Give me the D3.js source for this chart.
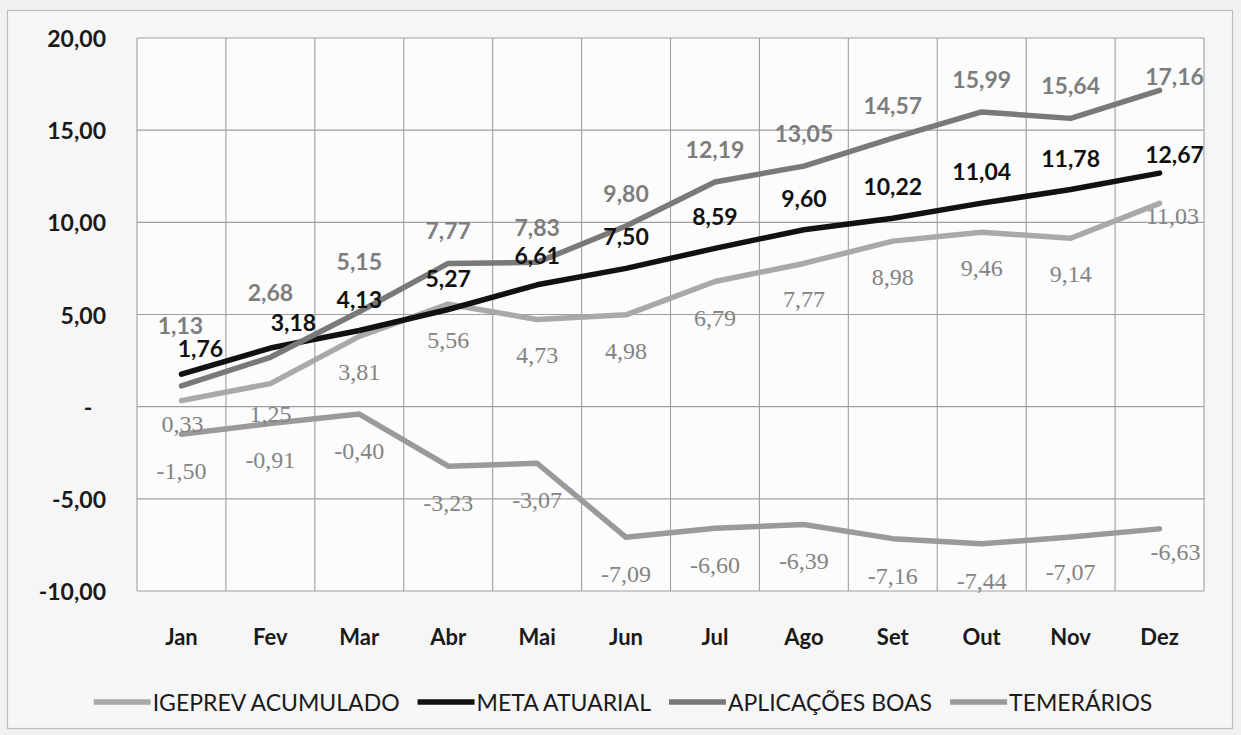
<!DOCTYPE html>
<html><head><meta charset="utf-8">
<script src="https://cdn.jsdelivr.net/npm/d3@7"></script>
<style>html,body{margin:0;padding:0;background:#f1f1f1;} svg{display:block;}</style>
</head><body><svg id="chart" width="1241" height="735"></svg>
<script>
// ---- data ----
const months = ["Jan","Fev","Mar","Abr","Mai","Jun","Jul","Ago","Set","Out","Nov","Dez"];
const igeprev = [0.33,1.25,3.81,5.56,4.73,4.98,6.79,7.77,8.98,9.46,9.14,11.03];
const meta = [1.76,3.18,4.13,5.27,6.61,7.50,8.59,9.60,10.22,11.04,11.78,12.67];
const boas = [1.13,2.68,5.15,7.77,7.83,9.80,12.19,13.05,14.57,15.99,15.64,17.16];
const temerarios = [-1.50,-0.91,-0.40,-3.23,-3.07,-7.09,-6.60,-6.39,-7.16,-7.44,-7.07,-6.63];
const seriesNames = ["IGEPREV ACUMULADO","META ATUARIAL","APLICAÇÕES BOAS","TEMERÁRIOS"];
const yTicks = [-10,-5,0,5,10,15,20];
const yTickLabels = ["-10,00","-5,00","-","5,00","10,00","15,00","20,00"];

// ---- styles (not data) ----
const seriesStyle = [
  {values: igeprev, color:"#a9a9a9", labelColor:"#838383", font:"'Liberation Serif', serif", weight:"normal", size:24, dy:36,
   adj:{0:[1,-13],1:[0,-6],11:[13,-23]}},
  {values: meta, color:"#111111", labelColor:"#111111", font:"Lato, sans-serif", weight:"bold", size:23, dy:-32,
   adj:{0:[19,6],1:[23,6],4:[0,2],11:[15,13]}},
  {values: boas, color:"#797979", labelColor:"#7d7d7d", font:"Lato, sans-serif", weight:"bold", size:23, dy:-33,
   adj:{0:[-1,-28],1:[0,-32],2:[0,-18],4:[0,-2],11:[15,19]}},
  {values: temerarios, color:"#9a9a9a", labelColor:"#848484", font:"'Liberation Serif', serif", weight:"normal", size:24, dy:37,
   adj:{10:[0,-2],11:[16,-14]}}
];

const svg = d3.select("#chart");
const W = 1241, H = 735;
const plot = {left:137, right:1204, top:38, bottom:591};

// backgrounds
svg.append("rect").attr("x",0).attr("y",0).attr("width",W).attr("height",H).attr("fill","#f1f1f1");
svg.append("rect").attr("x",7.5).attr("y",10.5).attr("width",1225).attr("height",718)
  .attr("fill","#f6f6f6").attr("stroke","#bdbdbd").attr("stroke-width",1.2);
svg.append("rect").attr("x",plot.left).attr("y",plot.top).attr("width",plot.right-plot.left).attr("height",plot.bottom-plot.top)
  .attr("fill","#fcfcfc");

const x = d3.scaleBand().domain(months).range([plot.left, plot.right]);
const y = d3.scaleLinear().domain([-10,20]).range([plot.bottom, plot.top]);
const cx = m => x(m) + x.bandwidth()/2;

// gridlines
const grid = svg.append("g").attr("stroke","#9f9f9f").attr("stroke-width",1.1);
grid.selectAll("line.h").data(yTicks).join("line")
  .attr("x1",plot.left).attr("x2",plot.right).attr("y1",d=>y(d)).attr("y2",d=>y(d));
const vlines = months.map(m => x(m)).concat([plot.right]);
grid.selectAll("line.v").data(vlines).join("line")
  .attr("x1",d=>d).attr("x2",d=>d).attr("y1",plot.top).attr("y2",plot.bottom);

// y axis labels
svg.append("g").selectAll("text").data(yTicks).join("text")
  .attr("x",(d,i)=> d===0 ? 88 : 106)
  .attr("y",d=>y(d))
  .attr("text-anchor",(d)=> d===0 ? "middle" : "end")
  .attr("dominant-baseline","central")
  .attr("font-family","Lato, sans-serif").attr("font-weight","bold").attr("font-size",23)
  .attr("fill","#1a1a1a")
  .text((d,i)=>yTickLabels[i]);

// x axis labels
svg.append("g").selectAll("text").data(months).join("text")
  .attr("x",d=>cx(d)).attr("y",636)
  .attr("text-anchor","middle").attr("dominant-baseline","central")
  .attr("font-family","Lato, sans-serif").attr("font-weight","bold").attr("font-size",22)
  .attr("fill","#1a1a1a")
  .text(d=>d);

// lines
const line = d3.line().x((d,i)=>cx(months[i])).y(d=>y(d));
seriesStyle.forEach(s => {
  svg.append("path").datum(s.values)
    .attr("d",line).attr("fill","none").attr("stroke",s.color)
    .attr("stroke-width",5.5).attr("stroke-linejoin","round").attr("stroke-linecap","round");
});

// data labels
const fmt = v => d3.format(".2f")(v).replace(".", ",").replace("\u2212", "-");
seriesStyle.forEach(s => {
  svg.append("g").selectAll("text").data(s.values).join("text")
    .attr("x",(d,i)=>cx(months[i]) + (s.adj[i] ? s.adj[i][0] : 0))
    .attr("y",(d,i)=>y(d) + s.dy + (s.adj[i] ? s.adj[i][1] : 0))
    .attr("text-anchor","middle").attr("dominant-baseline","central")
    .attr("font-family",s.font).attr("font-weight",s.weight).attr("font-size",s.size)
    .attr("fill",s.labelColor)
    .text(d=>fmt(d));
});

// legend
const leg = svg.append("g");
let cur = 0;
seriesNames.forEach((n,i) => {
  const g = leg.append("g");
  g.append("line").attr("x1",0).attr("x2",57).attr("y1",0).attr("y2",0)
    .attr("stroke",seriesStyle[i].color).attr("stroke-width",5.5);
  const t = g.append("text").attr("x",59).attr("y",0).attr("dominant-baseline","central")
    .attr("font-family","Lato, sans-serif").attr("font-size",23).attr("fill","#1a1a1a").text(n);
  const w = 59 + t.node().getComputedTextLength();
  g.attr("transform",`translate(${cur},702)`);
  cur += w + 18;
});
const total = cur - 18;
leg.attr("transform",`translate(${623 - total/2},0)`);
</script>
</body></html>
